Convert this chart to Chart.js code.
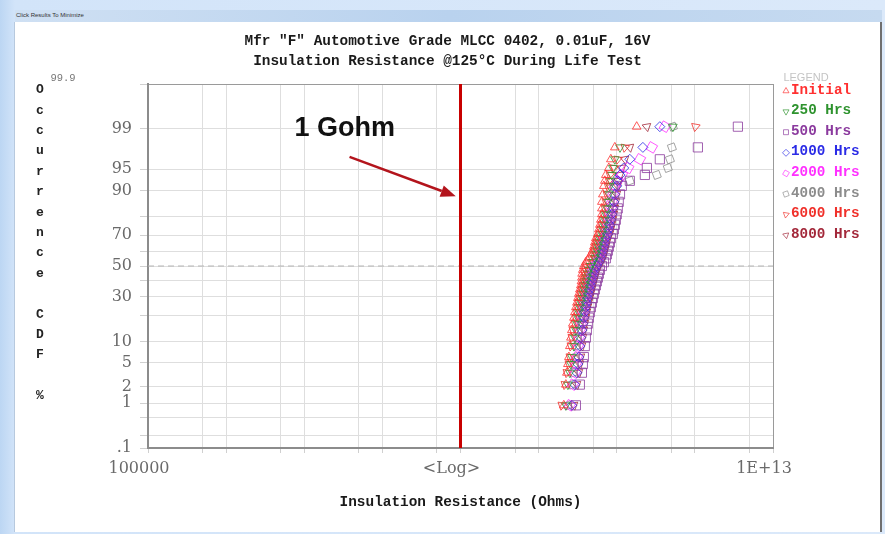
<!DOCTYPE html>
<html lang="en">
<head>
<meta charset="UTF-8">
<title>Insulation Resistance @125°C During Life Test</title>
<script src="https://cdn.jsdelivr.net/npm/chart.js"></script>
<style>
  body { margin: 0; width: 885px; height: 534px; overflow: hidden; position: relative;
         background: linear-gradient(to right, #bcd6f3 0px, #d2e4f9 15px, #dbe9fa 100%); }
  #bar { position: absolute; left: 15px; top: 10px; width: 867px; height: 12px;
         background: linear-gradient(to right, #cfe0f3, #b9d2ee 50%, #c6daf0); }
  #bar span { position: absolute; left: 1px; top: 2px; font: 6px 'Liberation Sans', sans-serif; color: #333; }
  #win { position: absolute; left: 15px; top: 22px; width: 865px; height: 510px; background: #fff;
         border-right: 2px solid #6f6f6f; box-shadow: -1px 0 0 #b7c9de; }
  canvas { display: block; }
</style>
</head>
<body>
<div id="bar"><span>Click Results To Minimize</span></div>
<div id="win"><canvas id="irChart" width="865" height="510"></canvas></div>

<script>
// plotting positions (% CDF) shared by every read-out
const cdfPct = [0.9, 2.2, 3.5, 4.8, 6.1, 8.7, 11.2, 13.8, 16.4, 19.0, 21.6, 24.2, 26.7, 29.3, 31.9,
    34.5, 37.1, 39.7, 42.2, 44.8, 47.4, 50.0, 52.6, 55.2, 57.8, 60.3, 62.9, 65.5, 68.1, 70.7,
    73.3, 75.8, 78.4, 81.0, 83.6, 86.2, 88.8, 91.3, 92.6, 93.9, 95.2, 96.5, 97.8, 99.1];

// insulation resistance per read-out, in GOhm
const irInitial = [21.0, 22.3, 23.0, 23.7, 24.4, 25.1, 25.9, 26.6, 27.4, 28.3, 29.1, 30.0, 30.9, 31.8, 32.7,
    33.7, 34.7, 35.3, 35.8, 36.0, 36.8, 37.9, 40.2, 43.9, 46.6, 49.4, 50.9, 52.4, 54.0, 57.3,
    59.0, 60.8, 62.6, 64.5, 64.5, 64.5, 66.4, 68.4, 70.4, 72.5, 79.2, 84.0, 94.5, 180];
const ir250 = [22.3, 23.7, 25.1, 25.9, 26.6, 28.3, 29.1, 30.0, 30.9, 31.8, 32.7, 33.7, 34.7, 35.8, 36.8,
    37.9, 39.0, 40.2, 41.4, 42.6, 43.9, 46.6, 49.4, 52.4, 54.0, 55.6, 57.3, 59.0, 60.8, 64.5,
    66.4, 68.4, 70.4, 72.5, 74.7, 76.9, 79.2, 81.6, 84.0, 86.5, 89.1, 94.5, 110, 523];
const ir500 = [30.0, 33.7, 35.8, 36.8, 37.9, 39.0, 40.2, 41.4, 42.6, 43.9, 45.2, 46.6, 48.0, 49.4, 50.9,
    52.4, 54.0, 55.6, 57.3, 59.0, 60.8, 64.5, 68.4, 72.5, 74.7, 76.9, 79.2, 81.6, 84.0, 89.1,
    91.8, 94.5, 97.3, 100, 103, 106, 110, 116, 147, 229, 243, 356, 1093, 3553];
const ir1000 = [26.6, 29.1, 30.9, 31.8, 32.7, 33.7, 34.7, 35.8, 36.8, 37.9, 39.0, 40.2, 41.4, 42.6, 43.9,
    45.2, 46.6, 48.0, 49.4, 50.9, 52.4, 55.6, 59.0, 62.6, 64.5, 66.4, 68.4, 70.4, 72.5, 76.9,
    79.2, 81.6, 84.0, 86.5, 89.1, 91.8, 94.5, 100, 103, 110, 123, 147, 216, 356];
const ir2000 = [25.1, 27.4, 29.1, 30.0, 30.9, 31.8, 32.7, 33.7, 34.7, 35.8, 36.8, 37.9, 39.0, 40.2, 41.4,
    42.6, 43.9, 45.2, 46.6, 48.0, 49.4, 52.4, 55.6, 59.0, 60.8, 62.6, 64.5, 66.4, 68.4, 72.5,
    74.7, 76.9, 79.2, 81.6, 84.0, 86.5, 89.1, 94.5, 103, 116, 140, 198, 281, 413];
const ir4000 = [23.7, 26.6, 27.4, 28.3, 29.1, 30.0, 30.9, 31.8, 32.7, 33.7, 34.7, 35.8, 36.8, 37.9, 39.0,
    40.2, 41.4, 42.6, 43.9, 45.2, 46.6, 49.4, 52.4, 55.6, 57.3, 59.0, 60.8, 62.6, 64.5, 68.4,
    70.4, 72.5, 74.7, 76.9, 79.2, 81.6, 84.0, 91.8, 147, 325, 450, 479, 508, 523];
const ir6000 = [19.8, 21.7, 23.0, 24.4, 25.1, 25.9, 26.6, 27.4, 29.1, 30.0, 30.9, 31.8, 32.7, 33.7, 34.7,
    35.8, 36.8, 37.9, 39.0, 39.0, 40.2, 41.4, 43.9, 48.0, 50.9, 52.4, 54.0, 55.6, 57.3, 60.8,
    62.6, 64.5, 66.4, 68.4, 70.4, 72.5, 74.7, 76.9, 79.2, 81.6, 91.8, 103, 127, 1018];
const ir8000 = [28.3, 30.9, 32.7, 33.7, 34.7, 35.8, 36.8, 37.9, 39.0, 40.2, 41.4, 42.6, 43.9, 45.2, 46.6,
    48.0, 49.4, 50.9, 52.4, 54.0, 55.6, 59.0, 62.6, 66.4, 68.4, 70.4, 72.5, 74.7, 76.9, 81.6,
    84.0, 86.5, 89.1, 91.8, 94.5, 97.3, 100, 103, 106, 110, 116, 127, 147, 243];

const seriesNames = ['Initial', '250 Hrs', '500 Hrs', '1000 Hrs', '2000 Hrs', '4000 Hrs', '6000 Hrs', '8000 Hrs'];
const irSeries = [irInitial, ir250, ir500, ir1000, ir2000, ir4000, ir6000, ir8000];

// axis ticks
const xTickValues = [1e5, 5e5, 1e6, 5e6, 1e7, 5e7, 1e8, 5e8, 1e9, 5e9, 1e10, 5e10, 1e11, 5e11, 1e12, 5e12, 1e13];
const xTickLabels = ['100000', '', '', '', '', '', '', '', '<Log>', '', '', '', '', '', '', '', '1E+13'];
const yTickValues = [0.1, 0.2, 0.5, 1, 2, 5, 10, 20, 30, 40, 50, 60, 70, 80, 90, 95, 99, 99.9];
const yTickLabels = ['.1', '', '', '1', '2', '5', '10', '', '30', '', '50', '', '70', '', '90', '95', '99', ''];

const GOHM = 1e9;
const X_MIN = 1e5, X_MAX = 1e13;
const Y_MIN = 0.1, Y_MAX = 99.9;

// look of each read-out
const seriesColors = ['#ff3030', '#2e932e', '#8b3a9e', '#2b2be6', '#ff30ff', '#8c8c8c', '#f0302a', '#a3283a'];
const seriesMarkers = ['triangle', 'triangle', 'rect', 'rectRot', 'rect', 'rectRot', 'triangle', 'triangle'];
const seriesRotation = [0, 180, 0, 0, 30, 25, -50, 50];
const seriesRadius = [5, 5, 6.5, 5, 6, 5, 5, 5];

// inverse normal CDF (Acklam), input in percent
function probit(pct) {
    const p = pct / 100;
    const a = [-39.69683028665376, 220.9460984245205, -275.9285104469687, 138.3577518672690, -30.66479806614716, 2.506628277459239];
    const b = [-54.47609879822406, 161.5858368580409, -155.6989798598866, 66.80131188771972, -13.28068155288572];
    const c = [-0.007784894002430293, -0.3223964580411365, -2.400758277161838, -2.549671039497460, 4.374664141464968, 2.938163982698783];
    const d = [0.007784695709041462, 0.3224671290700398, 2.445134137142996, 3.754408661907416];
    const lo = 0.02425;
    if (p < lo) {
        const q = Math.sqrt(-2 * Math.log(p));
        return (((((c[0]*q + c[1])*q + c[2])*q + c[3])*q + c[4])*q + c[5]) / ((((d[0]*q + d[1])*q + d[2])*q + d[3])*q + 1);
    }
    if (p > 1 - lo) {
        const q = Math.sqrt(-2 * Math.log(1 - p));
        return -(((((c[0]*q + c[1])*q + c[2])*q + c[3])*q + c[4])*q + c[5]) / ((((d[0]*q + d[1])*q + d[2])*q + d[3])*q + 1);
    }
    const q = p - 0.5, r = q * q;
    return (((((a[0]*r + a[1])*r + a[2])*r + a[3])*r + a[4])*r + a[5])*q / (((((b[0]*r + b[1])*r + b[2])*r + b[3])*r + b[4])*r + 1);
}

function normCdfPct(z) {
    const t = 1 / (1 + 0.3275911 * Math.abs(z) / Math.SQRT2);
    const e = 1 - (((((1.061405429*t - 1.453152027)*t) + 1.421413741)*t - 0.284496736)*t + 0.254829592)*t * Math.exp(-z*z/2);
    return 50 * (1 + (z < 0 ? -e : e));
}

// normal probability axis
class ProbitScale extends Chart.Scale {
    static id = 'probit';
    static defaults = {};
    determineDataLimits() {
        this.min = this.options.min;
        this.max = this.options.max;
    }
    buildTicks() {
        return yTickValues.map(v => ({ value: v }));
    }
    getLabelForValue(v) {
        return v + ' %';
    }
    getPixelForValue(v) {
        if (v === null || v === undefined || isNaN(v)) return NaN;
        const z0 = probit(this.min), z1 = probit(this.max);
        return this.getPixelForDecimal((probit(v) - z0) / (z1 - z0));
    }
    getValueForPixel(px) {
        const z0 = probit(this.min), z1 = probit(this.max);
        return normCdfPct(z0 + this.getDecimalForPixel(px) * (z1 - z0));
    }
}
Chart.register(ProbitScale);

const datasets = irSeries.map((vals, i) => ({
    label: seriesNames[i],
    data: vals.map((g, k) => ({ x: g * GOHM, y: cdfPct[k] })),
    showLine: false,
    pointStyle: seriesMarkers[i],
    pointRotation: seriesRotation[i],
    pointRadius: seriesRadius[i],
    pointBorderWidth: 1,
    borderColor: seriesColors[i] + 'cc',
    backgroundColor: 'rgba(0,0,0,0)',
    order: 1
}));

// 1 Gohm limit and the 50% line
datasets.push({
    type: 'line', label: '1 Gohm', isRef: true,
    data: [{ x: GOHM, y: Y_MIN }, { x: GOHM, y: Y_MAX }],
    borderColor: '#c80000', borderWidth: 3, pointRadius: 0, order: 5
});
datasets.push({
    type: 'line', label: 'median', isRef: true,
    data: [{ x: X_MIN, y: 50 }, { x: X_MAX, y: 50 }],
    borderColor: '#b4b4b4', borderWidth: 1, borderDash: [6, 4], pointRadius: 0, order: 6
});

const monoBold = { family: "'Liberation Mono', 'DejaVu Sans Mono', monospace", weight: 'bold', size: 14.4 };

// annotation, letter-stacked y title and legend
const extrasPlugin = {
    id: 'extras',
    afterDraw(chart) {
        const ctx = chart.ctx;
        const xs = chart.scales.x, ys = chart.scales.y;
        ctx.save();

        // 1 Gohm label + arrow
        ctx.fillStyle = '#111';
        ctx.font = "bold 27px 'Liberation Sans', Arial, sans-serif";
        ctx.textAlign = 'center';
        ctx.textBaseline = 'middle';
        ctx.fillText('1 Gohm', xs.getPixelForValue(3.3e7), ys.getPixelForValue(99));

        const ax0 = xs.getPixelForValue(3.8e7), ay0 = ys.getPixelForValue(96.8);
        const ax1 = xs.getPixelForValue(8.7e8), ay1 = ys.getPixelForValue(88.2);
        const ang = Math.atan2(ay1 - ay0, ax1 - ax0);
        const head = 15;
        ctx.strokeStyle = '#b3141c';
        ctx.fillStyle = '#b3141c';
        ctx.lineWidth = 2.5;
        ctx.beginPath();
        ctx.moveTo(ax0, ay0);
        ctx.lineTo(ax1 - head * Math.cos(ang), ay1 - head * Math.sin(ang));
        ctx.stroke();
        ctx.beginPath();
        ctx.moveTo(ax1, ay1);
        ctx.lineTo(ax1 - head * Math.cos(ang) + 6 * Math.sin(ang), ay1 - head * Math.sin(ang) - 6 * Math.cos(ang));
        ctx.lineTo(ax1 - head * Math.cos(ang) - 6 * Math.sin(ang), ay1 - head * Math.sin(ang) + 6 * Math.cos(ang));
        ctx.closePath();
        ctx.fill();

        // y axis title, one letter per row
        const yTitle = 'Occurrence CDF %';
        ctx.fillStyle = '#222';
        ctx.font = "bold 13px 'Liberation Mono', monospace";
        for (let k = 0; k < yTitle.length; k++) {
            ctx.fillText(yTitle[k], 25, 68 + k * 20.4);
        }
        ctx.fillStyle = '#777';
        ctx.font = "10.5px 'Liberation Mono', monospace";
        ctx.fillText('99.9', 48, 56);

        // legend
        ctx.fillStyle = '#c4c4c4';
        ctx.font = "11px 'Liberation Sans', sans-serif";
        ctx.fillText('LEGEND', 791, 56);
        ctx.textAlign = 'left';
        ctx.font = "bold 14.3px 'Liberation Mono', monospace";
        const drawPoint = Chart.helpers && Chart.helpers.drawPoint;
        chart.data.datasets.filter(ds => !ds.isRef).forEach((ds, i) => {
            const y = 68 + i * 20.6;
            ctx.strokeStyle = seriesColors[i] + 'aa';
            ctx.fillStyle = 'rgba(0,0,0,0)';
            ctx.lineWidth = 1;
            if (drawPoint) {
                drawPoint(ctx, { pointStyle: ds.pointStyle, rotation: ds.pointRotation, radius: 3.5, borderWidth: 1 }, 771, y + 1);
            } else {
                ctx.strokeRect(768, y - 2, 6, 6);
            }
            ctx.fillStyle = seriesColors[i];
            ctx.fillText(ds.label, 776, y);
        });
        ctx.restore();
    }
};

new Chart(document.getElementById('irChart'), {
    type: 'scatter',
    data: { datasets: datasets },
    options: {
        responsive: false,
        animation: false,
        events: [],
        plugins: {
            legend: { display: false },
            tooltip: { enabled: false },
            title: {
                display: true,
                text: ['Mfr "F" Automotive Grade MLCC 0402, 0.01uF, 16V', 'Insulation Resistance @125°C During Life Test'],
                color: '#1a1a1a',
                font: Object.assign({}, monoBold, { lineHeight: '20px' }),
                padding: { top: 9, bottom: 13 }
            }
        },
        scales: {
            x: {
                type: 'logarithmic',
                min: X_MIN,
                max: X_MAX,
                afterBuildTicks: axis => { axis.ticks = xTickValues.map(v => ({ value: v })); },
                afterFit: axis => { axis.height = 84; },
                grid: {
                    color: c => (c.tick && c.tick.value === X_MAX) ? '#9a9a9a' : '#dedede',
                    tickLength: 5,
                    tickColor: '#d0d0d0'
                },
                border: { color: '#8c8c8c', width: 2 },
                ticks: {
                    autoSkip: false,
                    maxRotation: 0,
                    padding: 6,
                    labelOffset: -9,
                    color: '#6a6a6a',
                    font: { family: "'DejaVu Serif', serif", size: 16 },
                    callback: (v, i) => xTickLabels[i]
                },
                title: {
                    display: true,
                    text: 'Insulation Resistance (Ohms)',
                    color: '#1a1a1a',
                    font: monoBold,
                    padding: { top: 0, bottom: 21 }
                }
            },
            y: {
                type: 'probit',
                min: Y_MIN,
                max: Y_MAX,
                afterFit: axis => { axis.width = 133; },
                grid: {
                    color: c => (c.tick && c.tick.value === Y_MAX) ? '#9a9a9a' : '#dedede',
                    tickLength: 8,
                    tickColor: '#d0d0d0'
                },
                border: { color: '#8c8c8c', width: 2 },
                ticks: {
                    autoSkip: false,
                    padding: 8,
                    color: '#6a6a6a',
                    font: { family: "'DejaVu Serif', serif", size: 16 },
                    callback: (v, i) => yTickLabels[i]
                }
            },
            // empty right-hand axis that keeps room for the legend column
            legendSpace: {
                type: 'linear',
                position: 'right',
                grid: { display: false },
                border: { display: false },
                ticks: { display: false },
                afterFit: axis => { axis.width = 107; }
            }
        }
    },
    plugins: [extrasPlugin]
});
</script>
</body>
</html>
